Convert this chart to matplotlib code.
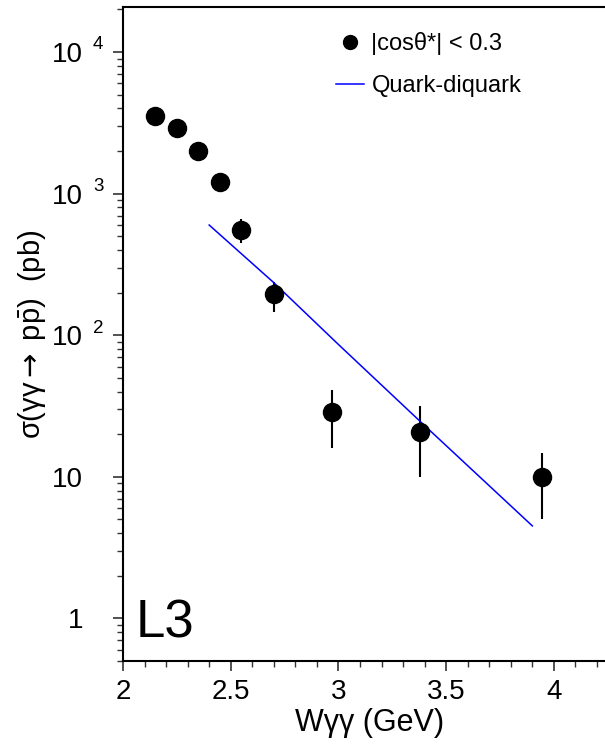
import numpy as np
import matplotlib
matplotlib.use("Agg")
import matplotlib.pyplot as plt
from matplotlib.lines import Line2D
from matplotlib.ticker import FixedLocator, MultipleLocator, LogLocator, NullFormatter

plt.rcParams['font.family'] = ['Liberation Sans', 'DejaVu Sans']
plt.rcParams['mathtext.fontset'] = 'custom'
plt.rcParams['mathtext.rm'] = 'Liberation Sans'
plt.rcParams['mathtext.it'] = 'Liberation Sans'
plt.rcParams['mathtext.sf'] = 'DejaVu Sans'

# data
w = [2.15, 2.25, 2.35, 2.45, 2.55, 2.70, 2.97, 3.38, 3.945]
sigma = [3550, 2920, 1990, 1200, 550, 196, 28.7, 20.8, 9.9]
err_hi = [0, 0, 0, 0, 658, 237, 41, 31.7, 14.8]
err_lo = [0, 0, 0, 0, 447, 146, 15.9, 10.0, 5.0]

qd_w = [2.40, 2.70, 3.00, 3.40, 3.90]
qd_sigma = [600, 235, 86, 23, 4.5]

yticks = [1, 10, 100, 1000, 10000]
ylabels = ['1', '10', '10', '10', '10']
yexp = ['', '', '2', '3', '4']

fig = plt.figure(figsize=(6.05, 7.44), dpi=100)
ax = fig.add_axes([123/605, 83/744, 494/605, 654/744])

yerr = [[s - l if l else 0 for s, l in zip(sigma, err_lo)],
        [h - s if h else 0 for s, h in zip(sigma, err_hi)]]
ax.errorbar(w, sigma, yerr=yerr, fmt='o', color='black', ms=13, elinewidth=1.5, capsize=0)
ax.plot(qd_w, qd_sigma, color='#0000ff', lw=1.1)

ax.set_yscale('log')
ax.set_xlim(2, 4.293)
ax.set_ylim(0.5, 2.08e4)

ax.set_xticks([2, 2.5, 3, 3.5, 4])
ax.set_xticklabels(['2', '2.5', '3', '3.5', '4'])
ax.xaxis.set_minor_locator(MultipleLocator(0.1))
ax.yaxis.set_major_locator(FixedLocator(yticks))
ax.set_yticklabels(ylabels)
ax.yaxis.set_minor_locator(LogLocator(base=10, subs=np.arange(2, 10)))
ax.yaxis.set_minor_formatter(NullFormatter())

# exponents drawn like the original "10 ⁴" labels
for v, e in zip(yticks, yexp):
    if e:
        ax.annotate(e, xy=(0, v), xycoords=ax.get_yaxis_transform(),
                    xytext=(-21.6, 1.9), textcoords='offset points',
                    ha='left', va='baseline', fontsize=13.5)

for s in ['left', 'bottom', 'top', 'right']:
    ax.spines[s].set_linewidth(1.5)
ax.tick_params(which='major', direction='out', length=7, width=1.2, labelsize=20,
               color='#333333', pad=6)
ax.tick_params(which='minor', direction='out', length=4.3, width=1.0, color='#333333')
ax.tick_params(axis='y', which='major', pad=21.6)

ax.set_xlabel('Wγγ (GeV)', fontsize=22, labelpad=2)
ax.set_ylabel(r'σ(γγ$\mathsf{\rightarrow}$ $\mathregular{p\bar{p}}$)  (pb)', fontsize=21, labelpad=3)

ax.text(0.025, 0.058, 'L3', transform=ax.transAxes, fontsize=38, ha='left', va='center')

handles = [Line2D([], [], ls='none', marker='o', color='black', ms=10),
           Line2D([], [], color='#0000ff', lw=1.1)]
ax.legend(handles, ['|cosθ*| < 0.3', 'Quark-diquark'], loc='upper left',
          bbox_to_anchor=(336/605, 1 - 32/744), bbox_transform=fig.transFigure,
          frameon=False, fontsize=17, handlelength=1.2, handletextpad=0.3,
          labelspacing=0.85, borderpad=0, borderaxespad=0)

fig.savefig('out.png', dpi=100)
